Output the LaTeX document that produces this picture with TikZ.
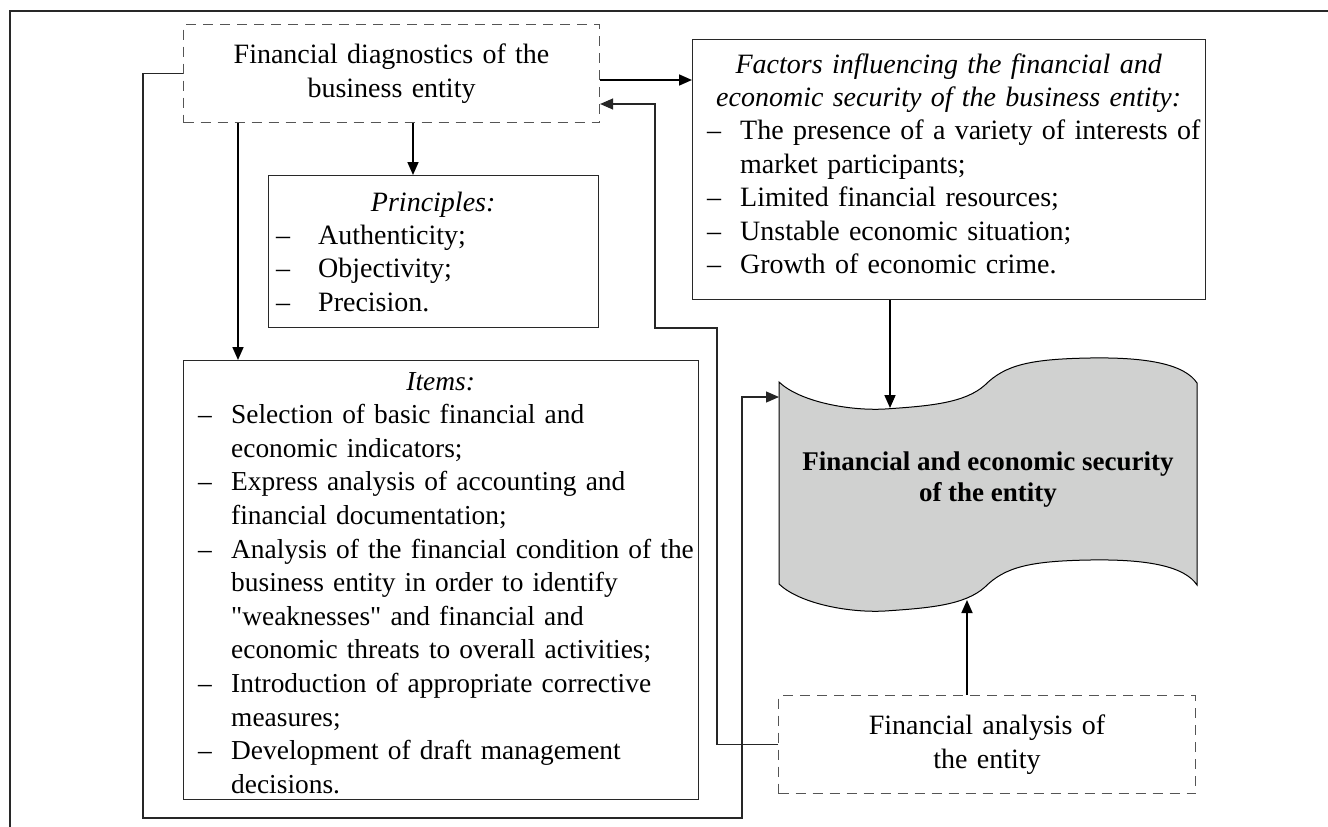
\documentclass[tikz,border=0pt]{standalone}
\usepackage{fontspec}
\setmainfont{Liberation Serif}
\usetikzlibrary{arrows.meta,calc}
\definecolor{docgray}{RGB}{208,209,208}
\definecolor{framegray}{RGB}{40,40,40}
\definecolor{dashgray}{RGB}{85,85,85}
\definecolor{boxline}{RGB}{40,40,40}
\newlength{\bulind}
\newlength{\buloff}
\newlength{\hdrw}
\newcommand{\nl}{\unskip\hfil\break}
\newcommand{\sq}{\XeTeXglyph\numexpr\XeTeXcharglyph"22\relax\relax}
\newcommand{\hdr}[1]{\noindent\makebox[\hdrw][c]{\itshape #1}\par}
\newcommand{\itemline}[1]{\par\hangindent=\bulind\hangafter=1\noindent\hspace*{\buloff}\makebox[\dimexpr\bulind-\buloff\relax][l]{–}#1}
\tikzset{
  txt/.style={font=\fontsize{28}{33.6}\selectfont},
  frame/.style={draw=boxline, line width=1pt, rectangle, inner sep=0pt, anchor=north west},
  listtext/.style={inner sep=0pt, anchor=base west, align=left, text width=620},
  dashbox/.style={txt, draw=dashgray, line width=1.1pt, dash pattern=on 10pt off 7pt, rectangle, inner sep=0pt, anchor=north west, align=center},
  arr/.style={line width=1.7pt, black, -{Triangle[length=13pt,width=11pt]}},
  loopline/.style={line width=1.2pt, black!85},
  looparr/.style={loopline, -{Triangle[length=13pt,width=11pt]}},
}
\begin{document}
\begin{tikzpicture}[x=1pt,y=-1pt]
\useasboundingbox (0,0) rectangle (1328,827);
\fill[white] (0,0) rectangle (1328,827);
% outer frame
\draw[framegray, line width=2.2pt] (10,840) -- (10,11) -- (1340,11);

% dashed boxes
\node[dashbox, minimum width=416, minimum height=98, text width=416] (diag) at (183,24)
  {Financial diagnostics of the\\business entity\par\vspace*{8pt}};
\node[dashbox, minimum width=417, minimum height=98, text width=417] (anal) at (778,695)
  {Financial analysis of\\the entity\par\vspace*{8pt}};

% solid boxes
\node[frame, minimum width=513, minimum height=260] (fac) at (692,39) {};
\node[listtext, font=\fontsize{28}{33.4}\selectfont] (facT) at (692,73) {%
  \setlength\hdrw{513pt}%
  \hdr{Factors influencing the financial and}%
  \hdr{economic security of the business entity:}%
  \setlength\bulind{48pt}\setlength\buloff{15pt}%
  \itemline{\mbox{The presence of a variety of interests of}\nl\mbox{market participants;}}%
  \itemline{\mbox{Limited financial resources;}}%
  \itemline{\mbox{Unstable economic situation;}}%
  \itemline{\mbox{Growth of economic crime.}}\par};

\node[frame, minimum width=330, minimum height=152] (prin) at (268,175) {};
\node[listtext, font=\fontsize{28}{33.4}\selectfont] (prinT) at (268,211) {%
  \setlength\hdrw{330pt}%
  \hdr{Principles:}%
  \setlength\bulind{50pt}\setlength\buloff{8pt}%
  \itemline{\mbox{Authenticity;}}%
  \itemline{\mbox{Objectivity;}}%
  \itemline{\mbox{Precision.}}\par};

\node[frame, minimum width=515, minimum height=439] (items) at (183,360) {};
\node[listtext, font=\fontsize{27.4}{33.6}\selectfont] (itemsT) at (183,390) {%
  \setlength\hdrw{515pt}%
  \hdr{Items:}%
  \setlength\bulind{48pt}\setlength\buloff{15pt}%
  \itemline{\mbox{Selection of basic financial and}\nl\mbox{economic indicators;}}%
  \itemline{\mbox{Express analysis of accounting and}\nl\mbox{financial documentation;}}%
  \itemline{\mbox{Analysis of the financial condition of the}\nl\mbox{business entity in order to identify}\nl\mbox{\sq weaknesses\sq{} and financial and}\nl\mbox{economic threats to overall activities;}}%
  \itemline{\mbox{Introduction of appropriate corrective}\nl\mbox{measures;}}%
  \itemline{\mbox{Development of draft management}\nl\mbox{decisions.}}\par};

% wavy document shape
\filldraw[fill=docgray, draw=black, line width=1pt]
  (779,382) .. controls (800,402) and (850,411) .. (885,409)
  .. controls (930,406) and (965,403) .. (985,385)
  .. controls (1005,365) and (1030,359) .. (1090,358)
  .. controls (1150,357) and (1185,365) .. (1197,383)
  -- (1197,585)
  .. controls (1185,567) and (1150,559) .. (1090,560)
  .. controls (1030,561) and (1005,567) .. (985,587)
  .. controls (965,605) and (930,608) .. (885,611)
  .. controls (850,613) and (800,604) .. (779,584) -- cycle;
\node[font=\fontsize{27}{31}\selectfont\bfseries, align=center] (sec) at (988,480)
  {Financial and economic security\\of the entity};
\coordinate (secTop) at (890,408);
\coordinate (secLeft) at (779,397);
\coordinate (secBot) at (967,600);

% connectors
\draw[arr] (diag.east |- 0,80) -- (fac.west |- 0,80);
\draw[looparr] (anal.west) -| (717,328) -| (655,104) -- (diag.east |- 0,104);
\draw[looparr] (diag.west) -| (143,818) -| (742,397) -- (secLeft);
\draw[arr] (diag.south -| 238,0) -- (items.north -| 238,0);
\draw[arr] (diag.south -| 413,0) -- (prin.north -| 413,0);
\draw[arr] (fac.south -| 890,0) -- (secTop);
\draw[arr] (anal.north -| 967,0) -- (secBot);
\end{tikzpicture}
\end{document}
